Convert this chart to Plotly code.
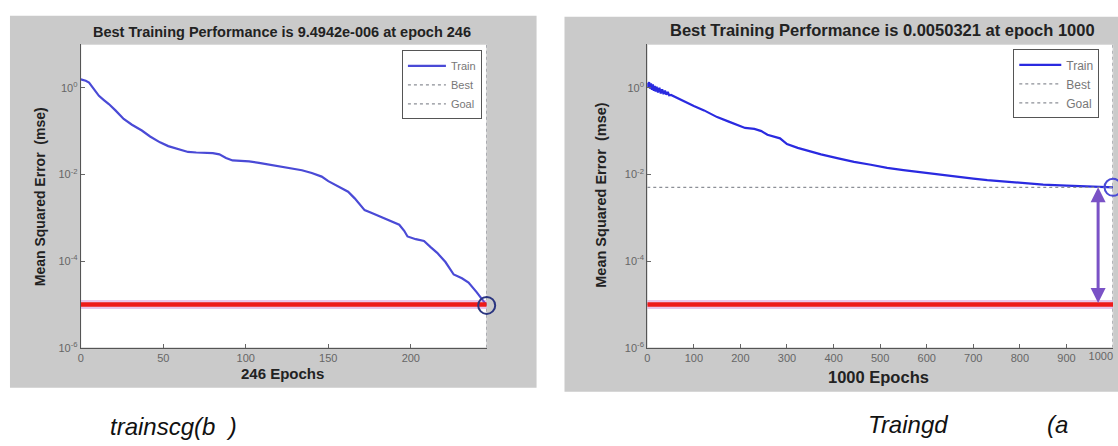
import math
import plotly.graph_objects as go

W, H = 1118, 446
FONT = "Liberation Sans, Arial, sans-serif"

# ---- trainscg run (246 epochs) ----
scg_epoch = [0, 3, 5, 8, 11, 14, 17, 21, 26, 31, 37, 42, 48, 53, 58, 65, 70, 76, 80, 84,
             88, 92, 102, 108, 114, 124, 134, 140, 146, 150, 155, 162, 166, 172, 176, 181,
             187, 193, 196, 198, 203, 208, 212, 216, 221, 226, 231, 235, 240, 246]
scg_mse = [1.56, 1.45, 1.32, 0.95, 0.65, 0.52, 0.42, 0.30, 0.19, 0.14, 0.103, 0.075, 0.055,
           0.045, 0.039, 0.033, 0.032, 0.032, 0.031, 0.029, 0.024, 0.021, 0.020, 0.0185,
           0.017, 0.0149, 0.0125, 0.0108, 0.0089, 0.0070, 0.0056, 0.0040, 0.0028, 0.0015,
           0.0013, 0.00107, 0.00085, 0.00069, 0.0005, 0.00037, 0.00032, 0.00029, 0.00021,
           0.000155, 0.000095, 0.000049, 0.000040, 0.000032, 0.000019, 9.4942e-6]
scg_goal = 1e-5
scg_best_epoch = 246
scg_best = 9.4942e-6
scg_xticks = [0, 50, 100, 150, 200]
scg_xlabels = ["0", "50", "100", "150", "200"]

# ---- traingd run (1000 epochs) ----
gd_epoch = [0, 2, 4, 6, 8, 10, 12, 14, 16, 18, 20, 23, 26, 29, 32, 35, 38, 41, 44, 47, 51,
            60, 80, 100, 122, 150, 175, 194, 210, 230, 245, 258, 272, 285, 300, 323, 350,
            373, 410, 444, 480, 515, 550, 587, 620, 658, 700, 730, 760, 801, 850, 900, 950,
            1000]
gd_mse = [1.30, 1.05, 1.35, 0.95, 1.25, 0.90, 1.20, 0.85, 1.10, 0.82, 1.05, 0.78, 1.00,
          0.74, 0.92, 0.71, 0.86, 0.69, 0.80, 0.67, 0.68, 0.61, 0.47, 0.38, 0.30, 0.21,
          0.165, 0.135, 0.118, 0.112, 0.100, 0.082, 0.074, 0.068, 0.050, 0.041, 0.034,
          0.029, 0.0235, 0.0195, 0.0167, 0.0142, 0.0126, 0.0112, 0.0100, 0.0089, 0.0080,
          0.0074, 0.0069, 0.0063, 0.0058, 0.0055, 0.0052, 0.0050321]
gd_goal = 1e-5
gd_best_epoch = 1000
gd_best = 0.0050321
gd_xticks = [0, 100, 200, 300, 400, 500, 600, 700, 800, 900, 1000]
gd_xlabels = ["0", "100", "200", "300", "400", "500", "600", "700", "800", "900", "1000"]

y_tickvals = [1, 1e-2, 1e-4, 1e-6]
y_ticktext = ["10<sup>0</sup>", "10<sup>-2</sup>", "10<sup>-4</sup>", "10<sup>-6</sup>"]
Y_MIN, Y_MAX = 1e-6, 10.0


def px(p):
    return p / W


def py(p):
    return 1 - p / H


fig = go.Figure()


def add_run(epochs, mse, goal, best_epoch, best, xa, ya, legend, blue, circle_color,
            marker_xa=None):
    x_end = epochs[-1]
    fig.add_trace(go.Scatter(x=epochs, y=mse, mode="lines", name="Train",
                             line=dict(color=blue, width=2.2),
                             xaxis=xa, yaxis=ya, legend=legend))
    fig.add_trace(go.Scatter(x=[best_epoch, best_epoch, None, 0, x_end],
                             y=[Y_MIN, Y_MAX, None, best, best], mode="lines", name="Best",
                             line=dict(color="#8c8f96", width=1.2, dash="dot"),
                             xaxis=xa, yaxis=ya, legend=legend))
    fig.add_trace(go.Scatter(x=[0, x_end], y=[goal, goal], mode="lines", name="Goal",
                             line=dict(color="#8c8f96", width=1.2, dash="dot"),
                             xaxis=xa, yaxis=ya, legend=legend))
    # highlighted goal level
    fig.add_trace(go.Scatter(x=[0, x_end], y=[goal, goal], mode="lines", showlegend=False,
                             line=dict(color="rgba(190,90,200,0.35)", width=9),
                             xaxis=xa, yaxis=ya, hoverinfo="skip"))
    fig.add_trace(go.Scatter(x=[0, x_end], y=[goal, goal], mode="lines", showlegend=False,
                             line=dict(color="#ee1a1a", width=4.5),
                             xaxis=xa, yaxis=ya, hoverinfo="skip"))
    fig.add_trace(go.Scatter(x=[best_epoch], y=[best], mode="markers", showlegend=False,
                             marker=dict(symbol="circle-open", size=17, color=circle_color,
                                         line=dict(width=2, color=circle_color)),
                             cliponaxis=False, xaxis=marker_xa or xa, yaxis=ya,
                             hoverinfo="skip"))


add_run(scg_epoch, scg_mse, scg_goal, scg_best_epoch, scg_best, "x", "y", "legend",
        "#4a4ad6", "#2a3580")
add_run(gd_epoch, gd_mse, gd_goal, gd_best_epoch, gd_best, "x2", "y2", "legend2",
        "#2a2ae0", "#4a4ad6", marker_xa="x3")

# panel backgrounds (figure gray + white axes area)
shapes = []
for (gx0, gy0, gx1, gy1), (ax0, ay0, ax1, ay1) in [
        ((7, 16, 535, 393), (78, 45, 485, 352.5)),
        ((563, 17, 1118, 397), (646, 45, 1113, 352.5))]:
    shapes.append(dict(type="rect", xref="paper", yref="paper", layer="below",
                       x0=px(gx0), x1=px(gx1), y0=py(gy1), y1=py(gy0),
                       fillcolor="#cacaca", line=dict(width=0)))
    shapes.append(dict(type="rect", xref="paper", yref="paper", layer="below",
                       x0=px(ax0), x1=px(ax1), y0=py(ay1), y1=py(ay0),
                       fillcolor="white", line=dict(color="#d8d8d8", width=1)))

axis_common = dict(showgrid=False, zeroline=False, showline=True, linecolor="#555",
                   linewidth=1.2, ticks="inside", ticklen=4, tickcolor="#666",
                   tickfont=dict(family=FONT, size=11, color="#666"), mirror=False)

fig.update_layout(
    width=W, height=H, margin=dict(l=0, r=0, t=0, b=0),
    paper_bgcolor="white", plot_bgcolor="rgba(0,0,0,0)",
    shapes=shapes, showlegend=True,
    xaxis=dict(domain=[px(78), px(485)], range=[0, scg_best_epoch], anchor="y",
               tickvals=scg_xticks, ticktext=scg_xlabels, **axis_common),
    yaxis=dict(domain=[py(352.5), py(45)], type="log",
               range=[math.log10(Y_MIN), math.log10(Y_MAX)], anchor="x",
               tickvals=y_tickvals, ticktext=y_ticktext, **axis_common),
    xaxis2=dict(domain=[px(646), px(1113)], range=[0, gd_best_epoch], anchor="y2",
                tickvals=gd_xticks[:-1], ticktext=gd_xlabels[:-1], **axis_common),
    # the last tick sits on the page edge, so its label is set flush left of the tick
    xaxis3=dict(overlaying="x2", anchor="y2", range=[0, gd_best_epoch],
                tickvals=gd_xticks[-1:], ticktext=gd_xlabels[-1:],
                ticklabelposition="outside left",
                showgrid=False, zeroline=False, showline=False, ticks="",
                tickfont=dict(family=FONT, size=11, color="#666")),
    yaxis2=dict(domain=[py(352.5), py(45)], type="log",
                range=[math.log10(Y_MIN), math.log10(Y_MAX)], anchor="x2",
                tickvals=y_tickvals, ticktext=y_ticktext, **axis_common),
    legend=dict(x=px(400), y=py(51), xanchor="left", yanchor="top", bgcolor="white",
                bordercolor="#555", borderwidth=1, itemwidth=38, tracegroupgap=0,
                font=dict(family=FONT, size=11, color="#777")),
    legend2=dict(x=px(1013), y=py(50), xanchor="left", yanchor="top", bgcolor="white",
                 bordercolor="#555", borderwidth=1, itemwidth=42, tracegroupgap=0,
                 font=dict(family=FONT, size=12, color="#777")),
)

ann = []


def text(x, y, s, size, bold=True, color="#222", angle=0, xanchor="center", italic=False):
    t = f"<b>{s}</b>" if bold else s
    if italic:
        t = f"<i>{t}</i>"
    ann.append(dict(x=px(x), y=py(y), xref="paper", yref="paper", text=t, showarrow=False,
                    xanchor=xanchor, yanchor="middle", textangle=angle,
                    font=dict(family=FONT, size=size, color=color)))


text(280, 32, "Best Training Performance is 9.4942e-006 at epoch 246", 14.5)
text(882, 30, "Best Training Performance is 0.0050321 at epoch 1000", 16.5)
text(280, 379, "246 Epochs", 15)
text(878, 382, "1000 Epochs", 16.5)
text(37, 199, "Mean Squared Error\u00a0 (mse)", 14, angle=-90)
text(600, 197, "Mean Squared Error\u00a0 (mse)", 14.5, angle=-90)
text(105, 432, "trainscg(b\u00a0 )", 24, bold=False, color="#111", xanchor="left", italic=True)
text(865, 430, "Traingd", 24, bold=False, color="#111", xanchor="left", italic=True)
text(1045, 430, "(a", 24, bold=False, color="#111", xanchor="left", italic=True)

# gap between best performance and goal in the traingd run
ARROW_EPOCH = 968
ann.append(dict(x=ARROW_EPOCH, y=math.log10(gd_best), xref="x2", yref="y2",
                ax=ARROW_EPOCH, ay=math.log10(gd_goal), axref="x2", ayref="y2",
                text="", showarrow=True, arrowhead=2, startarrowhead=2,
                arrowside="end+start", arrowsize=1, startarrowsize=1,
                arrowwidth=3, arrowcolor="#7a52c6"))

fig.update_layout(annotations=ann)
fig.write_html("out.html")
